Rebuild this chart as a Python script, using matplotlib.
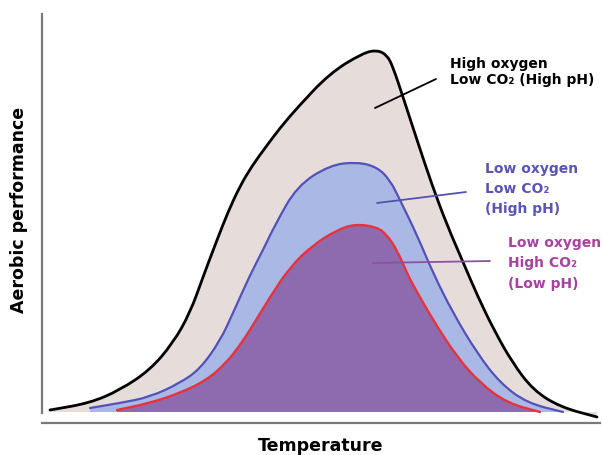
import numpy as np
import matplotlib
matplotlib.use("Agg")
import matplotlib.pyplot as plt
from matplotlib.path import Path
from matplotlib.patches import PathPatch

# Temperatura / rendimiento aeróbico (unidades arbitrarias)
temp_alto_o2 = np.array([8, 48, 78, 108, 131, 148, 161, 175, 186, 198, 210, 223, 238, 255, 288,
                         321, 335, 345, 351, 361, 375, 390, 405, 421, 436, 452, 470, 491, 518, 555])
rend_alto_o2 = np.array([13, 20, 33, 53, 80, 110, 146, 183, 211, 237, 257, 275, 295, 315, 350,
                         370, 373, 368, 356, 326, 283, 238, 198, 161, 126, 93, 61, 33, 16, 6])

temp_bajo_o2 = np.array([48, 78, 108, 138, 158, 178, 191, 208, 221, 233, 255, 288, 315, 335,
                         348, 358, 375, 391, 411, 435, 458, 485, 521])
rend_bajo_o2 = np.array([15, 20, 26, 40, 54, 82, 110, 148, 173, 198, 237, 258, 261, 256,
                         243, 223, 188, 150, 110, 70, 40, 20, 11])

temp_alto_co2 = np.array([75, 108, 138, 165, 185, 198, 208, 228, 248, 271, 295, 313, 335, 345,
                          355, 365, 371, 391, 415, 438, 465, 498])
rend_alto_co2 = np.array([13, 20, 30, 43, 61, 78, 93, 126, 156, 178, 193, 199, 196, 188,
                          173, 150, 138, 103, 66, 40, 20, 11])

base = 11


def curva_suave(x, y, cerrar=False):
    # Curva cuadrática de Bézier que usa los puntos como controles
    p = np.column_stack([x, y]).astype(float)
    verts = [p[0], (p[0] + p[1]) / 2]
    codes = [Path.MOVETO, Path.LINETO]
    for i in range(1, len(p) - 1):
        verts += [p[i], (p[i] + p[i + 1]) / 2]
        codes += [Path.CURVE3, Path.CURVE3]
    verts.append(p[-1])
    codes.append(Path.LINETO)
    if cerrar:
        verts += [(p[-1][0], base), (p[0][0], base), p[0]]
        codes += [Path.LINETO, Path.LINETO, Path.CLOSEPOLY]
    return Path(verts, codes)


W, H = 602, 455
fig = plt.figure(figsize=(W / 100, H / 100), dpi=100)
ax = fig.add_axes([42 / W, 32 / H, 558 / W, 409 / H])
ax.set_xlim(0, 558)
ax.set_ylim(0, 409)

series = [
    (temp_alto_o2, rend_alto_o2, "#e6dddb", "black", 2.0),
    (temp_bajo_o2, rend_bajo_o2, "#a9b8e5", "#5452b8", 1.6),
    (temp_alto_co2, rend_alto_co2, "#8e6aae", "#e8333c", 1.7),
]

# Rellenos
for t, r, relleno, _, _ in series:
    ax.add_patch(PathPatch(curva_suave(t, r, cerrar=True), facecolor=relleno, lw=0))

# Curvas
for t, r, _, linea, grosor in series:
    ax.add_patch(PathPatch(curva_suave(t, r), facecolor="none", edgecolor=linea,
                           lw=grosor, joinstyle="round", capstyle="round"))

# Líneas indicadoras
ax.annotate("", xy=(333, 315), xytext=(394, 344),
            arrowprops=dict(arrowstyle="-", color="black", lw=1.3, shrinkA=0, shrinkB=0))
ax.annotate("", xy=(335, 220), xytext=(424, 231),
            arrowprops=dict(arrowstyle="-", color="#5452b0", lw=1.3, shrinkA=0, shrinkB=0))
ax.annotate("", xy=(331, 160), xytext=(448, 162),
            arrowprops=dict(arrowstyle="-", color="#8a52a4", lw=1.3, shrinkA=0, shrinkB=0))


# Etiquetas de las curvas
def etiqueta(x, y, s, color):
    fig.text(x / W, 1 - y / H, s, color=color, fontsize=10, fontweight="heavy",
             ha="left", va="baseline")


etiqueta(450, 68, "High oxygen", "black")
etiqueta(450, 84, "Low CO\u2082 (High pH)", "black")
etiqueta(485, 173, "Low oxygen", "#5a54b4")
etiqueta(485, 193, "Low CO\u2082", "#5a54b4")
etiqueta(485, 213, "(High pH)", "#5a54b4")
etiqueta(508, 247, "Low oxygen", "#a8429f")
etiqueta(508, 267, "High CO\u2082", "#a8429f")
etiqueta(508, 288, "(Low pH)", "#a8429f")

# Ejes
for lado in ["top", "right"]:
    ax.spines[lado].set_visible(False)
for lado in ["left", "bottom"]:
    ax.spines[lado].set_color("#7a7a7a")
    ax.spines[lado].set_linewidth(1.6)
ax.spines["left"].set_bounds(10, 409)
ax.set_xticks([])
ax.set_yticks([])

fig.text(321 / W, 1 - 451 / H, "Temperature", fontsize=12.5, fontweight="heavy",
         ha="center", va="baseline")
fig.text(19 / W, 1 - 210 / H, "Aerobic performance", fontsize=12.5, fontweight="heavy",
         ha="center", va="center", rotation=90)

fig.savefig("out.png", dpi=100)
